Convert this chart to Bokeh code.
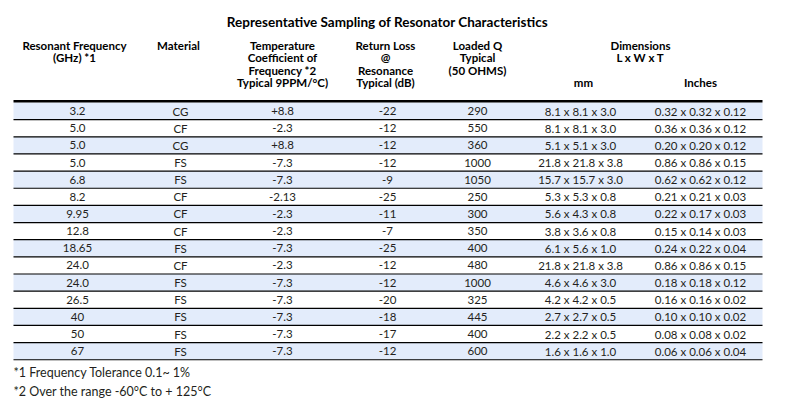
from bokeh.plotting import figure
from bokeh.models import Range1d, ColumnDataSource
from bokeh.core.properties import value
from bokeh.embed import file_html
from bokeh.resources import INLINE

title_text = "Representative Sampling of Resonator Characteristics"

freq = ["3.2", "5.0", "5.0", "5.0", "6.8", "8.2", "9.95", "12.8", "18.65",
        "24.0", "24.0", "26.5", "40", "50", "67"]
material = ["CG", "CF", "CG", "FS", "FS", "CF", "CF", "CF", "FS",
            "CF", "FS", "FS", "FS", "FS", "FS"]
temp_coef = ["+8.8", "-2.3", "+8.8", "-7.3", "-7.3", "-2.13", "-2.3", "-2.3", "-7.3",
             "-2.3", "-7.3", "-7.3", "-7.3", "-7.3", "-7.3"]
return_loss = ["-22", "-12", "-12", "-12", "-9", "-25", "-11", "-7", "-25",
               "-12", "-12", "-20", "-18", "-17", "-12"]
loaded_q = ["290", "550", "360", "1000", "1050", "250", "300", "350", "400",
            "480", "1000", "325", "445", "400", "600"]
dim_mm = ["8.1 x 8.1 x 3.0", "8.1 x 8.1 x 3.0", "5.1 x 5.1 x 3.0", "21.8 x 21.8 x 3.8",
          "15.7 x 15.7 x 3.0", "5.3 x 5.3 x 0.8", "5.6 x 4.3 x 0.8", "3.8 x 3.6 x 0.8",
          "6.1 x 5.6 x 1.0", "21.8 x 21.8 x 3.8", "4.6 x 4.6 x 3.0", "4.2 x 4.2 x 0.5",
          "2.7 x 2.7 x 0.5", "2.2 x 2.2 x 0.5", "1.6 x 1.6 x 1.0"]
dim_in = ["0.32 x 0.32 x 0.12", "0.36 x 0.36 x 0.12", "0.20 x 0.20 x 0.12",
          "0.86 x 0.86 x 0.15", "0.62 x 0.62 x 0.12", "0.21 x 0.21 x 0.03",
          "0.22 x 0.17 x 0.03", "0.15 x 0.14 x 0.03", "0.24 x 0.22 x 0.04",
          "0.86 x 0.86 x 0.15", "0.18 x 0.18 x 0.12", "0.16 x 0.16 x 0.02",
          "0.10 x 0.10 x 0.02", "0.08 x 0.08 x 0.02", "0.06 x 0.06 x 0.04"]

headers = [
    ["Resonant Frequency", "(GHz) *1"],
    ["Material"],
    ["Temperature", "Coefficient of", "Frequency *2", "Typical 9PPM/°C)"],
    ["Return Loss", "@", "Resonance", "Typical (dB)"],
    ["Loaded Q", "Typical", "(50 OHMS)"],
    ["Dimensions", "L x W x T"],
]
sub_headers = ["mm", "Inches"]
footnotes = ["*1 Frequency Tolerance 0.1~ 1%", "*2 Over the range -60°C to + 125°C"]

# ---- layout (screen-pixel coordinates) ----
FONT = value("Lato")
TXT = "#231F20"
SHADE = "#E3ECFB"
col_x = [77, 180, 282, 387, 477, 580, 700]
header_x = [74, 178, 282, 385, 477, 640]
sub_header_x = [583, 700]
left, right = 13, 762
top = 102
row_h = 17.15
line_h = 12.3

p = figure(width=790, height=405, output_backend="svg", toolbar_location=None,
           x_range=Range1d(0, 790), y_range=Range1d(405, 0),
           min_border=0, x_axis_location=None, y_axis_location=None)
p.grid.visible = False
p.outline_line_color = None
p.background_fill_color = "white"
p.border_fill_color = "white"

n = len(freq)
tops = [top + i * row_h for i in range(n)]
bottoms = [t + row_h for t in tops]
centers = [t + row_h / 2 for t in tops]

shade_idx = [i for i in range(n) if i % 2 == 0]
p.quad(left=left, right=right, top=[tops[i] for i in shade_idx],
       bottom=[bottoms[i] for i in shade_idx], fill_color=SHADE, line_color=None)
p.segment(x0=left, x1=right, y0=bottoms, y1=bottoms, line_color="black", line_width=1.2)
p.segment(x0=[left], x1=[right], y0=[top - 1.2], y1=[top - 1.2], line_color="black", line_width=2.6)

src = ColumnDataSource(dict(y=centers, freq=freq, material=material, temp=temp_coef,
                            rl=return_loss, q=loaded_q, mm=dim_mm, inch=dim_in))
for cx, col in zip(col_x, ["freq", "material", "temp", "rl", "q", "mm", "inch"]):
    p.text(x=cx, y="y", text=col, source=src, text_align="center", text_baseline="middle",
           text_font=FONT, text_font_size="11.5px", text_color=TXT)

# title
p.text(x=[387], y=[21], text=[title_text], text_align="center", text_baseline="middle",
       text_font=FONT, text_font_size="13.5px", text_font_style="bold", text_color="black")

# headers
hx, hy, ht = [], [], []
for x, lines in zip(header_x, headers):
    for j, s in enumerate(lines):
        hx.append(x); hy.append(45 + j * line_h); ht.append(s)
for x, s in zip(sub_header_x, sub_headers):
    hx.append(x); hy.append(82); ht.append(s)
p.text(x=hx, y=hy, text=ht, text_align="center", text_baseline="middle",
       text_font=FONT, text_font_size="11.5px", text_font_style="bold", text_color="black")

# footnotes
p.text(x=[13, 13], y=[372, 391], text=footnotes, text_align="left", text_baseline="middle",
       text_font=FONT, text_font_size="12.5px", text_color=TXT)

open("out.html", "w").write(file_html(p, INLINE))
